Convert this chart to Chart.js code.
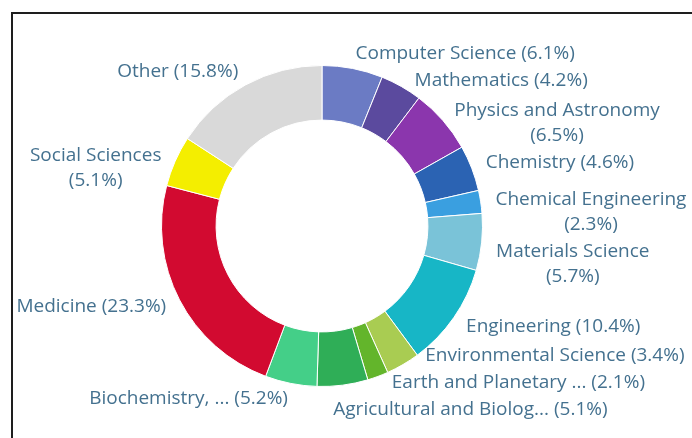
<!DOCTYPE html>
<html>
<head>
<meta charset="utf-8">
<script src="https://cdn.jsdelivr.net/npm/chart.js@4.4.1/dist/chart.umd.min.js"></script>
<style>
  html, body { margin: 0; padding: 0; background: #fff; overflow: hidden; }
  #wrap { position: relative; width: 692px; height: 438px; }
  #frame {
    position: absolute; left: 11px; top: 12px; width: 700px; height: 450px;
    border-top: 2px solid #1e1e1e; border-left: 2px solid #1e1e1e;
  }
  #subjectChart { position: absolute; left: 0; top: 0; }
</style>
</head>
<body>
<div id="wrap">
  <div id="frame"></div>
  <canvas id="subjectChart" width="692" height="438"></canvas>
</div>
<script>
// subject areas, clockwise from the top
const subjects = [
  "Computer Science", "Mathematics", "Physics and Astronomy", "Chemistry",
  "Chemical Engineering", "Materials Science", "Engineering",
  "Environmental Science", "Earth and Planetary ...", "Agricultural and Biolog...",
  "Biochemistry, ...", "Medicine", "Social Sciences", "Other"
];
const shares = [6.1, 4.2, 6.5, 4.6, 2.3, 5.7, 10.4, 3.4, 2.1, 5.1, 5.2, 23.3, 5.1, 15.8];
const sliceColors = [
  "#6b7bc4", "#5b4a9e", "#8b36ad", "#2b63b3", "#3a9fe0", "#7ac3d8", "#17b6c6",
  "#a9cc52", "#63b52b", "#2fae57", "#44cf88", "#d20a30", "#f4ee00", "#d9d9d9"
];
// these labels break the percentage onto a second line
const wrapped = ["Physics and Astronomy", "Chemical Engineering", "Materials Science", "Social Sciences"];

const labelFont = '19px "Open Sans"';
const labelColor = "#44718f";
const lineH = 25;
const gap = 2;
const maxY = 410;

function labelLines(i) {
  const pct = "(" + shares[i].toFixed(1) + "%)";
  if (wrapped.includes(subjects[i])) return [subjects[i], pct];
  return [subjects[i] + " " + pct];
}

// outside labels with simple overlap push, per side
const outsideLabels = {
  id: "outsideLabels",
  afterDraw(chart) {
    const ctx = chart.ctx;
    const meta = chart.getDatasetMeta(0);
    const items = [];
    meta.data.forEach((arc, i) => {
      const p = arc.getProps(["x", "y", "startAngle", "endAngle", "outerRadius"], true);
      const mid = (p.startAngle + p.endAngle) / 2;
      const r = p.outerRadius + 15;
      const lines = labelLines(i);
      items.push({
        lines,
        cx: p.x, cy: p.y, r,
        ax: p.x + r * Math.cos(mid),
        ay: p.y + r * Math.sin(mid),
        right: Math.cos(mid) >= 0,
        h: lines.length * lineH + gap,
      });
    });

    [true, false].forEach((side) => {
      const list = items.filter((it) => it.right === side).sort((a, b) => a.ay - b.ay);
      list.forEach((it, k) => {
        it.y = k === 0 ? it.ay : Math.max(it.ay, list[k - 1].y + list[k - 1].h);
      });
      const last = list[list.length - 1];
      if (last && last.y > maxY) last.y = maxY;
      for (let k = list.length - 2; k >= 0; k--) {
        list[k].y = Math.min(list[k].y, list[k + 1].y - list[k].h);
      }
    });

    ctx.save();
    ctx.font = labelFont;
    ctx.fillStyle = labelColor;
    ctx.textBaseline = "middle";
    items.forEach((it) => {
      let x = it.ax;
      if (Math.abs(it.y - it.ay) > 0.5) {
        const dy = it.y - it.cy;
        const dx = Math.sqrt(Math.max(0, it.r * it.r - dy * dy));
        x = (it.ax + it.cx + (it.right ? dx : -dx)) / 2;
      }
      const w = Math.max(...it.lines.map((l) => ctx.measureText(l).width));
      if (it.lines.length === 1) {
        ctx.textAlign = it.right ? "left" : "right";
        ctx.fillText(it.lines[0], x, it.y);
      } else {
        ctx.textAlign = "center";
        const mx = it.right ? x + w / 2 : x - w / 2;
        it.lines.forEach((l, j) => ctx.fillText(l, mx, it.y + j * lineH));
      }
    });
    ctx.restore();
  },
};

new Chart(document.getElementById("subjectChart"), {
  type: "doughnut",
  data: {
    labels: subjects,
    datasets: [
      {
        data: shares,
        backgroundColor: sliceColors,
        borderColor: "#ffffff",
        borderWidth: 1,
        hoverOffset: 0,
      },
    ],
  },
  options: {
    responsive: false,
    animation: false,
    cutout: "66%",
    layout: { padding: { top: 65, bottom: 51, left: 161, right: 209 } },
    plugins: {
      legend: { display: false },
      tooltip: { enabled: false },
    },
  },
  plugins: [outsideLabels],
});
</script>
</body>
</html>
